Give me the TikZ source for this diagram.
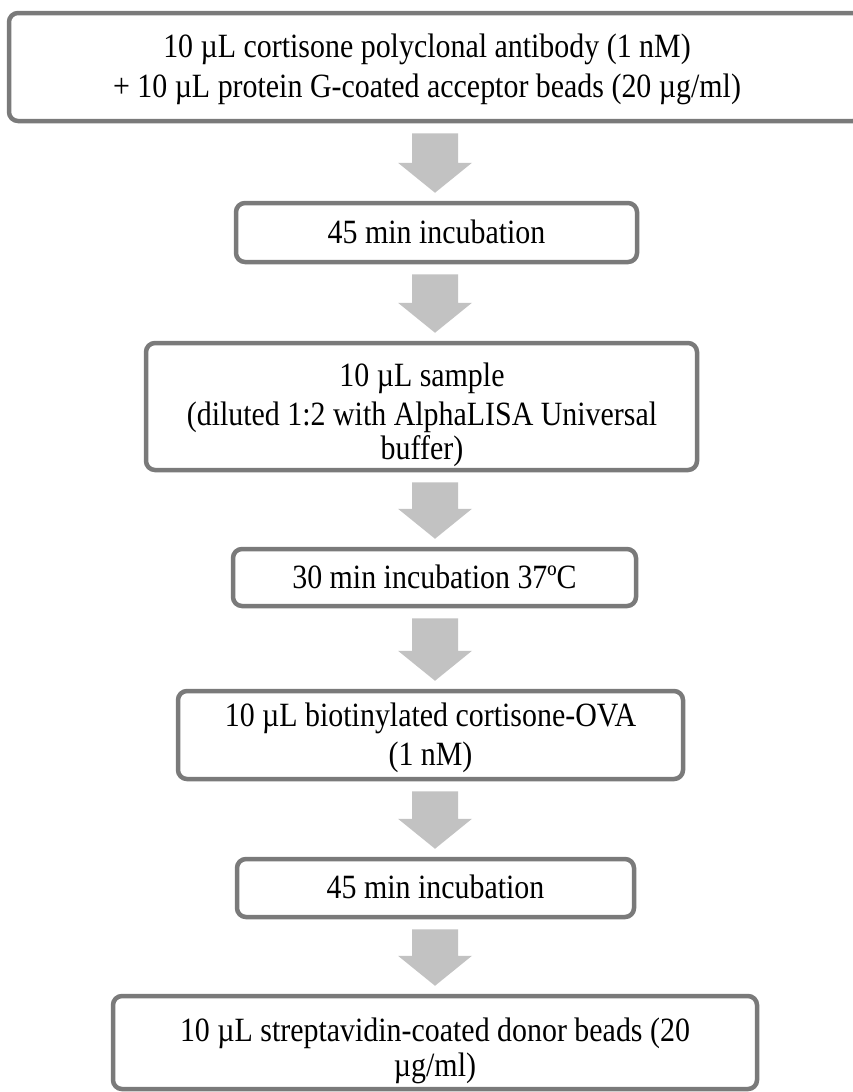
\documentclass[tikz,border=0pt]{standalone}
\usepackage{fontspec}
\setmainfont{Liberation Serif}[FakeStretch=0.88]
\usetikzlibrary{calc}
\definecolor{boxgray}{HTML}{7A7A7A}
\definecolor{arrowgray}{HTML}{C2C2C2}
\tikzset{
  stepbox/.style={draw=boxgray, line width=4.5pt, rounded corners=9pt, fill=white, inner sep=0pt, anchor=center},
  steptext/.style={align=center, inner sep=0pt, anchor=center, font=\fontsize{34pt}{34.5pt}\selectfont},
  flowarrow/.style={fill=arrowgray, draw=none},
}
\newcommand\flowdown[2]{%
  \fill[flowarrow] let \p1=($(cx |- #1.south)+(0,10)$), \p2=($(cx |- #2.north)+(0,-8)$) in
   (\x1-23pt,\y1) -- (\x1+23pt,\y1) -- (\x1+23pt,\y2+30pt) -- (\x1+37pt,\y2+30pt)
   -- (\x1,\y2) -- (\x1-37pt,\y2+30pt) -- (\x1-23pt,\y2+30pt) -- cycle;}
\begin{document}
\begin{tikzpicture}[x=1pt,y=-1pt]
\useasboundingbox (0,0) rectangle (853,1092);
\fill[white] (0,0) rectangle (853,1092);
\coordinate (cx) at (435,0);

\node[stepbox, minimum width=853pt, minimum height=108pt] (b1) at (435.5,67) {};
\node[stepbox, minimum width=401pt, minimum height=59pt] (b2) at (436.5,232.5) {};
\node[stepbox, minimum width=551pt, minimum height=127pt] (b3) at (421.5,406.5) {};
\node[stepbox, minimum width=403pt, minimum height=57pt] (b4) at (434.5,577.5) {};
\node[stepbox, minimum width=505pt, minimum height=88pt] (b5) at (430.5,735) {};
\node[stepbox, minimum width=397pt, minimum height=58pt] (b6) at (435.5,888) {};
\node[stepbox, minimum width=644pt, minimum height=93pt] (b7) at (435,1042.5) {};

\node[steptext] (t1) at (427,69) {10 µL cortisone polyclonal antibody (1 nM)\\[5.5pt]+ 10 µL protein G-coated acceptor beads (20 µg/ml)};
\node[steptext] (t2) at (436.5,232) {45 min incubation};
\node[steptext] (t3) at (422,415) {10 µL sample\\[4pt](diluted 1:2 with AlphaLISA Universal\\buffer)};
\node[steptext] (t4) at (434.5,577) {30 min incubation 37ºC};
\node[steptext] (t5) at (430.5,738) {10 µL biotinylated cortisone-OVA\\[4pt](1 nM)};
\node[steptext] (t6) at (435.5,887) {45 min incubation};
\node[steptext] (t7) at (435,1051) {10 µL streptavidin-coated donor beads (20\\µg/ml)};

\flowdown{b1}{b2}
\flowdown{b2}{b3}
\flowdown{b3}{b4}
\flowdown{b4}{b5}
\flowdown{b5}{b6}
\flowdown{b6}{b7}
\end{tikzpicture}
\end{document}
